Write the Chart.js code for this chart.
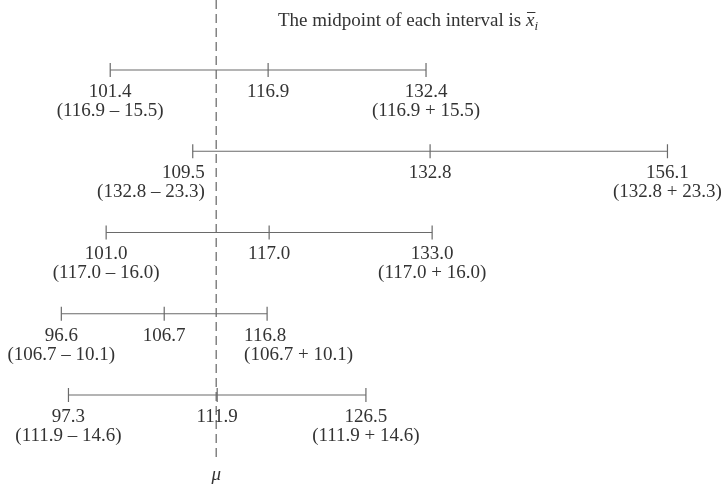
<!DOCTYPE html>
<html>
<head>
<meta charset="utf-8">
<script src="https://cdn.jsdelivr.net/npm/chart.js@4/dist/chart.umd.min.js"></script>
<style>
  body { margin: 0; background: #fff; }
  #wrap { width: 724px; height: 486px; position: relative; }
</style>
</head>
<body>
<div id="wrap"><canvas id="ciChart"></canvas></div>
<script>
// five sample intervals, top to bottom
const rows = [1, 2, 3, 4, 5];
const midpoints = [116.9, 132.8, 117.0, 106.7, 111.9];
const halfWidths = [15.5, 23.3, 16.0, 10.1, 14.6];
const lowerEnds = [101.4, 109.5, 101.0, 96.6, 97.3];
const upperEnds = [132.4, 156.1, 133.0, 116.8, 126.5];
const mu = 111.8;

const titleText = 'The midpoint of each interval is ';

const lineColor = '#6a6a6a';
const textColor = '#333333';
const serif = '"Liberation Serif", "Times New Roman", serif';

const yMin = 0.1385, yMax = 6.12;

const datasets = rows.map((r, i) => ({
    data: [
        { x: lowerEnds[i], y: r },
        { x: midpoints[i], y: r },
        { x: upperEnds[i], y: r },
    ],
    showLine: true,
    borderColor: lineColor,
    borderWidth: 1.2,
    pointStyle: 'line',
    rotation: 90,
    pointRadius: 7,
    pointBorderWidth: 1.2,
    pointBorderColor: lineColor,
}));

// dashed line at mu
datasets.push({
    data: [{ x: mu, y: yMin }, { x: mu, y: 5.82 }],
    showLine: true,
    borderColor: '#555555',
    borderWidth: 1.1,
    borderDash: [9, 5],
    pointRadius: 0,
});

// how each end label sits against its tick
const lowerAlign = ['center', 'right', 'center', 'center', 'center'];
const upperAlign = ['center', 'center', 'center', 'left', 'center'];

const labelPlugin = {
    id: 'ciLabels',
    afterDatasetsDraw(chart) {
        const ctx = chart.ctx;
        const xs = chart.scales.x, ys = chart.scales.y;
        ctx.save();
        ctx.fillStyle = textColor;
        ctx.font = '19px ' + serif;
        ctx.textBaseline = 'alphabetic';

        const put = (txt, x, y, align) => {
            let dx = 0;
            if (align === 'right') dx = 12;
            if (align === 'left') dx = -23;
            ctx.textAlign = align;
            ctx.fillText(txt, x + dx, y);
        };

        rows.forEach((r, i) => {
            const y = ys.getPixelForValue(r);
            const xl = xs.getPixelForValue(lowerEnds[i]);
            const xm = xs.getPixelForValue(midpoints[i]);
            const xu = xs.getPixelForValue(upperEnds[i]);
            const m = midpoints[i].toFixed(1), h = halfWidths[i].toFixed(1);
            put(lowerEnds[i].toFixed(1), xl, y + 27, lowerAlign[i]);
            put('(' + m + ' \u2013 ' + h + ')', xl, y + 46, lowerAlign[i]);
            put(m, xm, y + 27, 'center');
            put(upperEnds[i].toFixed(1), xu, y + 27, upperAlign[i]);
            put('(' + m + ' + ' + h + ')', xu, y + 46, upperAlign[i]);
        });

        // mu label under the dashed line
        ctx.font = 'italic 19px ' + serif;
        ctx.textAlign = 'center';
        ctx.fillText('\u03bc', xs.getPixelForValue(mu), 480);

        // title with x-bar sub i
        ctx.font = '19px ' + serif;
        ctx.textAlign = 'left';
        const tx = 278, ty = 26;
        ctx.fillText(titleText, tx, ty);
        let x = tx + ctx.measureText(titleText).width;
        ctx.font = 'italic 19px ' + serif;
        ctx.fillText('x', x, ty);
        const wx = ctx.measureText('x').width;
        ctx.strokeStyle = textColor;
        ctx.lineWidth = 1;
        ctx.beginPath();
        ctx.moveTo(x + 1, ty - 13.5);
        ctx.lineTo(x + wx + 1, ty - 13.5);
        ctx.stroke();
        ctx.font = 'italic 13px ' + serif;
        ctx.fillText('i', x + wx, ty + 4);
        ctx.restore();
    }
};

new Chart(document.getElementById('ciChart'), {
    type: 'scatter',
    data: { datasets: datasets },
    options: {
        responsive: true,
        maintainAspectRatio: false,
        animation: false,
        layout: { padding: 0, autoPadding: false },
        plugins: { legend: { display: false }, tooltip: { enabled: false } },
        scales: {
            x: { type: 'linear', min: 90.58, max: 161.65, display: false },
            y: { type: 'linear', min: yMin, max: yMax, reverse: true, display: false },
        },
    },
    plugins: [labelPlugin],
});
</script>
</body>
</html>
